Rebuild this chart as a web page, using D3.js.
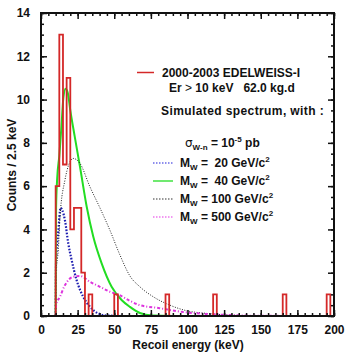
<!DOCTYPE html>
<html>
<head>
<meta charset="utf-8">
<script src="https://cdn.jsdelivr.net/npm/d3@7"></script>
<style>
body { margin: 0; background: #fff; }
text { font-family: "Liberation Sans", Arial, sans-serif; font-weight: bold; fill: #111; }
</style>
</head>
<body>
<svg id="chart" width="354" height="363"></svg>
<script>
var width = 354, height = 363
var margin = {top: 13, right: 20, bottom: 47, left: 41}

// histogram: lower edge of each non-empty 2.5 keV bin and its count
var binLow = [10, 12.5, 15, 17.5, 20, 22.5, 25, 27.5, 32.5, 50, 85, 117.5, 165, 195]
var binCount = [6, 13, 7, 11, 4, 5, 5, 2, 1, 1, 1, 1, 1, 1]
var binWidth = 2.5

// simulated spectra
var m20E = [10, 10.3, 11.8, 13.4, 14.5, 16.4, 18.6, 20.9, 24.3, 28.8, 33.4, 39, 45, 60, 200]
var m20V = [0, 2.5, 3.9, 5.0, 4.9, 4.4, 3.36, 2.59, 1.66, 0.89, 0.43, 0.12, 0.02, 0, 0]
var m40E = [10, 10.3, 11, 12.5, 14, 15.3, 16.8, 18.3, 20, 23, 26.6, 31.2, 35.7, 41.4, 48.2, 55, 60.7, 67.5, 76, 90, 200]
var m40V = [0, 5, 6.3, 7.4, 8.8, 10.1, 10.5, 10.3, 9.5, 8.3, 6.9, 5.05, 3.66, 2.43, 1.35, 0.74, 0.42, 0.14, 0.02, 0, 0]
var m100E = [10, 10.3, 11.8, 13, 16.4, 19, 22, 26.6, 33.4, 40.2, 47, 54, 60.7, 67.5, 76.6, 88, 99, 113, 130, 150, 200]
var m100V = [0, 2, 3.05, 4.6, 6.3, 7.0, 7.28, 7.05, 5.97, 5.0, 3.97, 2.8, 1.85, 1.35, 0.89, 0.5, 0.25, 0.12, 0.04, 0, 0]
var m500E = [10, 10.3, 13, 16.4, 22, 26.6, 33.4, 40.2, 47, 54, 60.7, 67.5, 81, 95, 111, 130, 150, 200]
var m500V = [0, 0.5, 0.9, 1.43, 1.81, 1.85, 1.58, 1.35, 1.12, 0.95, 0.7, 0.5, 0.36, 0.2, 0.1, 0.04, 0.01, 0]

var curves = [
    {E: m20E, V: m20V, color: "#1c1cb0", lc: "#6a6ae8", width: 2.2, dash: "1.6,1.6", mass: " 20"},
    {E: m40E, V: m40V, color: "#22dd22", lc: "#22dd22", width: 2, dash: null, mass: " 40"},
    {E: m100E, V: m100V, color: "#222", lc: "#777", width: 1, dash: "1,1.5", mass: "100"},
    {E: m500E, V: m500V, color: "#dd33dd", lc: "#ee77ee", width: 2, dash: "3,2,1,2", mass: "500"}
]

var svg = d3.select("#chart")
var x = d3.scaleLinear().domain([0, 200]).range([margin.left, width - margin.right])
var y = d3.scaleLinear().domain([0, 14]).range([height - margin.bottom, margin.top])

var plot = svg.append("g")

// curves
var line = d3.line()
    .x(function(d) { return x(d[0]); })
    .y(function(d) { return y(d[1]); })
    .curve(d3.curveMonotoneX)

curves.forEach(function(c) {
    plot.append("path")
        .datum(d3.zip(c.E, c.V))
        .attr("fill", "none")
        .attr("stroke", c.color)
        .attr("stroke-width", c.width)
        .attr("stroke-dasharray", c.dash)
        .attr("d", line)
})

// histogram as a step outline
var pts = []
binLow.forEach(function(lo, i) {
    var prevAdj = i > 0 && Math.abs(binLow[i-1] + binWidth - lo) < 1e-6
    if (!prevAdj) pts.push([lo, 0])
    pts.push([lo, binCount[i]])
    pts.push([lo + binWidth, binCount[i]])
    var nextAdj = i < binLow.length - 1 && Math.abs(lo + binWidth - binLow[i+1]) < 1e-6
    if (!nextAdj) pts.push([lo + binWidth, 0])
})
plot.append("path")
    .attr("fill", "none")
    .attr("stroke", "#d42828")
    .attr("stroke-width", 1.8)
    .attr("d", d3.line().x(function(d) { return x(d[0]); }).y(function(d) { return y(d[1]); })(pts))

// axes with inward ticks on all four sides
function addAxis(axis, tf) {
    var g = svg.append("g").attr("transform", tf).call(axis)
    g.select(".domain").remove()
    g.selectAll(".tick line").attr("stroke", "#111").attr("stroke-width", 1.5)
    g.selectAll("text").style("font-size", "12px").style("font-weight", "bold")
    return g
}
var xMaj = d3.range(0, 201, 25), xMin = d3.range(0, 201, 5)
var yMaj = d3.range(0, 15, 2), yMin = d3.range(0, 14.01, 0.5)
var x0 = height - margin.bottom, xT = margin.top
var yL = margin.left, yR = width - margin.right

addAxis(d3.axisBottom(x).tickValues(xMin).tickSize(-3).tickFormat(""), "translate(0," + x0 + ")")
addAxis(d3.axisBottom(x).tickValues(xMaj).tickSize(-6).tickPadding(9), "translate(0," + x0 + ")")
addAxis(d3.axisTop(x).tickValues(xMin).tickSize(-3).tickFormat(""), "translate(0," + xT + ")")
addAxis(d3.axisTop(x).tickValues(xMaj).tickSize(-6).tickFormat(""), "translate(0," + xT + ")")
addAxis(d3.axisLeft(y).tickValues(yMin).tickSize(-3).tickFormat(""), "translate(" + yL + ",0)")
addAxis(d3.axisLeft(y).tickValues(yMaj).tickSize(-6).tickPadding(11), "translate(" + yL + ",0)")
addAxis(d3.axisRight(y).tickValues(yMin).tickSize(-3).tickFormat(""), "translate(" + yR + ",0)")
addAxis(d3.axisRight(y).tickValues(yMaj).tickSize(-6).tickFormat(""), "translate(" + yR + ",0)")

// frame
svg.append("rect")
    .attr("x", yL).attr("y", xT)
    .attr("width", yR - yL).attr("height", x0 - xT)
    .attr("fill", "none").attr("stroke", "#111").attr("stroke-width", 2)

// axis titles
svg.append("text")
    .attr("x", 188).attr("y", 349)
    .attr("text-anchor", "middle")
    .style("font-size", "12px")
    .text("Recoil energy (keV)")
svg.append("text")
    .attr("transform", "translate(16,165) rotate(-90)")
    .attr("text-anchor", "middle")
    .style("font-size", "12px")
    .text("Counts / 2.5 keV")

// legend
var leg = svg.append("g")
leg.append("line").attr("x1", 137).attr("x2", 154).attr("y1", 72.5).attr("y2", 72.5)
    .attr("stroke", "#d42828").attr("stroke-width", 1.5)
leg.append("text").attr("x", 162).attr("y", 77).style("font-size", "12px").text("2000-2003 EDELWEISS-I")
var t2 = leg.append("text").attr("x", 169).attr("y", 92).style("font-size", "12px").style("white-space", "pre")
t2.append("tspan").text("Er ")
t2.append("tspan").style("font-weight", "normal").text(">")
t2.append("tspan").text(" 10 keV   62.0 kg.d")
leg.append("text").attr("x", 161).attr("y", 115).style("font-size", "12px")
    .style("letter-spacing", "0.4px").text("Simulated spectrum, with :")

var sig = leg.append("text").attr("x", 185).attr("y", 147).style("font-size", "12px")
sig.append("tspan").style("font-weight", "normal").style("font-family", "DejaVu Sans").text("σ")
sig.append("tspan").attr("dy", 3).style("font-size", "8px").text("W-n")
sig.append("tspan").attr("dy", -3).text(" = 10")
sig.append("tspan").attr("dy", -5).style("font-size", "8px").text("-5")
sig.append("tspan").attr("dy", 5).text(" pb")

curves.forEach(function(c, i) {
    var yy = 163 + i * 18
    leg.append("line").attr("x1", 153).attr("x2", 173).attr("y1", yy).attr("y2", yy)
        .attr("stroke", c.lc).attr("stroke-width", 1.3).attr("stroke-dasharray", c.dash ? "1.5,1.5" : null)
    var t = leg.append("text").attr("x", 180).attr("y", yy + 4).style("font-size", "12px").style("white-space", "pre")
    t.append("tspan").text("M")
    t.append("tspan").attr("dy", 3).style("font-size", "8px").text("W")
    t.append("tspan").attr("dy", -3).text(" = " + c.mass + " GeV/c")
    t.append("tspan").attr("dy", -5).style("font-size", "8px").text("2")
})
</script>
</body>
</html>
